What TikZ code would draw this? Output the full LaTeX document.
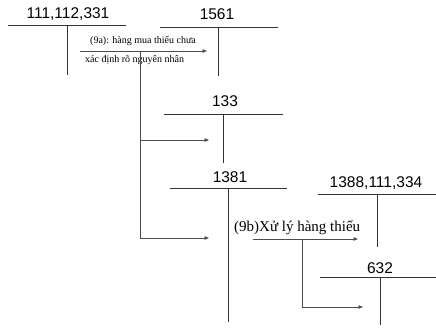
\documentclass[tikz,border=0pt]{standalone}
\usepackage{fontspec}
\setmainfont{Liberation Serif}
\setsansfont{Liberation Sans}
\usetikzlibrary{arrows.meta,positioning}

\tikzset{
  acct/.style={font=\sffamily\fontsize{15.5}{15.5}\selectfont,inner sep=0pt},
  note/.style={font=\fontsize{10}{10}\selectfont,inner sep=0pt,anchor=west},
  tline/.style={line width=.8pt,black!80},
  flow/.style={line width=.8pt,black!70,-{Triangle[length=4.5pt,width=3.5pt]}}
}

\begin{document}
\begin{tikzpicture}[x=1pt,y=-1pt]
\useasboundingbox (0,0) rectangle (436,330);
% T accounts
\node[acct] (t111) at (68,14) {111,112,331};
\draw[tline] (8,25)--(126,25); \draw[tline] (67,25)--(67,75);
\node[acct] (t1561) at (217,14) {1561};
\draw[tline] (160,27)--(278,27); \draw[tline] (218,27)--(218,76);
\node[acct] (t133) at (225,101) {133};
\draw[tline] (164,114)--(283,114); \draw[tline] (223,114)--(223,163);
\node[acct] (t1381) at (230,177) {1381};
\draw[tline] (170,188)--(287,188); \draw[tline] (228,188)--(228,322);
\node[acct] (t1388) at (376,183) {1388,111,334};
\draw[tline] (318,194)--(436,194); \draw[tline] (377,194)--(377,247);
\node[acct] (t632) at (380,268) {632};
\draw[tline] (320,277)--(436,277); \draw[tline] (380,277)--(380,325);

% (9a)
\coordinate (a9s) at (80,51);
\coordinate (a9e) at (207,51);
\coordinate (b133) at (209,140);
\coordinate (b1381) at (209,238);
\draw[flow] (a9s)--(a9e);
\node[note] (n9a) at (90,41) {(9a): hàng mua thiếu chưa};
\node[note] (n9a2) at (85,60) {xác định rõ nguyên nhân};
\draw[line width=.8pt,black!70] (140,51)--(140,238);
\draw[flow] (140,140)--(b133);
\draw[flow] (140,238)--(b1381);

% (9b)
\coordinate (b9s) at (253,239);
\coordinate (b9e) at (358,239);
\coordinate (b632) at (363,307);
\node[note,font=\fontsize{15}{15}\selectfont] (n9b) at (234,228) {(9b)Xử lý hàng thiếu};
\draw[flow] (b9s)--(b9e);
\draw[flow] (302,239)--(302,307)--(b632);
\end{tikzpicture}
\end{document}
